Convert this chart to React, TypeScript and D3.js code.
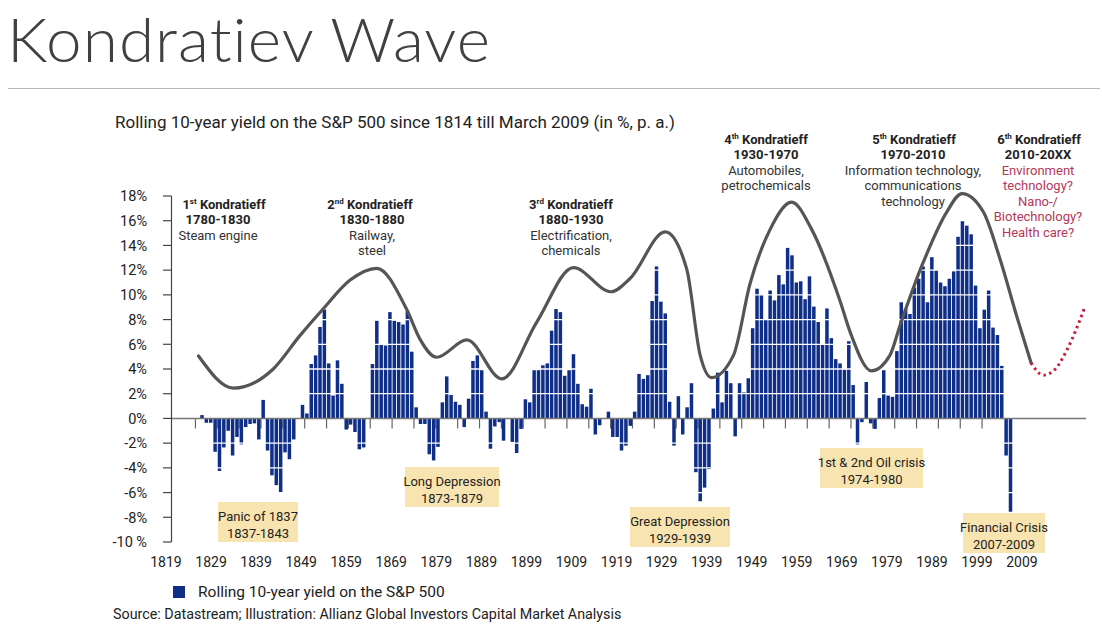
import React from "react";
import * as d3 from "d3";

// ---------- data ----------
const years: number[] = d3.range(1824, 2010);
const yields: number[] = [
  0.27, -0.35, -0.35, -2.7, -4.25, -2.35, -1.0, -3.0, -1.5, -2.1,
  -0.7, -0.45, -0.4, -1.7, 1.5, -2.6, -4.6, -5.4, -6.0, -2.75,
  -3.3, -1.7, 0, 1.1, 0.4, 4.4, 5.1, 7.4, 8.8, 4.45,
  1.85, 4.7, 2.8, -0.9, -0.5, -1.1, -2.5, -2.35, 0, 4.4,
  7.9, 6.0, 5.9, 8.6, 7.9, 7.8, 7.6, 8.7, 5.4, 0.9,
  -0.45, -0.45, -2.9, -3.4, -2.3, 1.3, 3.4, 1.9, 1.35, 1.1,
  -0.7, 1.6, 4.65, 5.1, 3.9, 0.55, -2.45, -0.65, -0.3, -1.8,
  0, -1.9, -2.8, -0.85, 1.55, 1.3, 3.9, 3.9, 4.3, 4.45,
  7.1, 8.85, 8.6, 3.45, 3.9, 5.2, 2.8, 1.15, 0.95, 2.4,
  -1.3, -0.55, 0, 0.55, -1.5, -1.5, -2.6, -2.2, -0.6, 0.55,
  3.6, 3.2, 3.5, 9.5, 12.3, 9.45, 8.5, 1.35, -2.2, 1.8,
  -1.3, 0.9, 2.85, -4.35, -6.7, -5.6, -4.1, 0.8, 3.7, 1.3,
  3.85, 2.85, -1.45, 2.85, 2.1, 3.25, 7.3, 10.5, 10.0, 8.0,
  10.35, 9.55, 11.6, 10.85, 13.8, 13.2, 11.0, 11.1, 9.65, 11.5,
  9.05, 7.8, 6.0, 8.9, 6.5, 4.8, 4.45, 3.95, 6.25, 2.7,
  -2.1, -0.3, 2.95, -0.4, -0.85, 1.65, 3.9, 1.85, 1.75, 5.45,
  9.4, 8.9, 8.45, 10.6, 11.3, 12.3, 9.4, 13.05, 12.0, 11.0,
  10.7, 11.3, 11.9, 14.7, 16.0, 15.6, 14.9, 10.75, 7.3, 8.8,
  10.35, 7.35, 6.75, 4.25, -3.0, -7.55,
];

const yTickValues = [18, 16, 14, 12, 10, 8, 6, 4, 2, 0, -2, -4, -6, -8, -10];
const yTickLabels = ["18%", "16%", "14%", "12%", "10%", "8%", "6%", "4%", "2%", "0%", "-2%", "-4%", "-6%", "-8%", "-10 %"];
const xTickLabels = ["1819", "1829", "1839", "1849", "1859", "1869", "1879", "1889", "1899", "1909",
  "1919", "1929", "1939", "1949", "1959", "1969", "1979", "1989", "1999", "2009"];
const zeroTickYears: number[] = d3.range(1822.5, 2003, 5);

const waveYears = [1823.2, 1831.2, 1840.3, 1846.4, 1851.8, 1857.9, 1864.0, 1870.8, 1873.9, 1877.7,
  1884.6, 1892.6, 1900.6, 1909.0, 1917.6, 1921.9, 1930.0, 1934.9, 1938.0, 1940.6,
  1945.6, 1949.4, 1954.0, 1958.9, 1963.5, 1970.0, 1972.3, 1977.2, 1981.4, 1983.7,
  1989.0, 1994.4, 1997.9, 2002.8, 2006.6, 2010.4, 2013.7];
const waveValues = [5.05, 2.45, 4.0, 6.7, 8.9, 11.2, 12.15, 8.85, 6.4, 4.95,
  6.35, 3.2, 7.8, 12.2, 10.25, 11.3, 15.1, 12.1, 5.1, 3.3,
  5.1, 10.9, 15.3, 17.5, 15.3, 9.5, 7.0, 3.85, 5.1, 7.5,
  12.6, 16.7, 18.2, 16.7, 12.9, 8.3, 4.5];
const outlookYears = [2013.7, 2016.5, 2019.0, 2022.0, 2026.0];
const outlookValues = [4.5, 3.5, 3.9, 5.6, 9.0];

const waveOrdinals = ["1", "2", "3", "4", "5", "6"];
const waveSuffixes = ["st", "nd", "rd", "th", "th", "th"];
const wavePeriods = ["1780-1830", "1830-1880", "1880-1930", "1930-1970", "1970-2010", "2010-20XX"];
const waveThemes = [
  ["Steam engine"],
  ["Railway,", "steel"],
  ["Electrification,", "chemicals"],
  ["Automobiles,", "petrochemicals"],
  ["Information technology,", "communications", "technology"],
  ["Environment", "technology?", "Nano-/", "Biotechnology?", "Health care?"],
];
const crisisNames = ["Panic of 1837", "Long Depression", "Great Depression", "1st & 2nd Oil crisis", "Financial Crisis"];
const crisisPeriods = ["1837-1843", "1873-1879", "1929-1939", "1974-1980", "2007-2009"];

// ---------- layout (positions & styles) ----------
const W = 1102;
const H = 632;
const FONT = "Roboto, 'Liberation Sans', sans-serif";
const BAR = "#0f2e88";
const headLayout = [
  { hx: 224, bx: 218, y: 209 },
  { hx: 370, bx: 372, y: 209 },
  { hx: 571, bx: 571, y: 209 },
  { hx: 766, bx: 766, y: 144 },
  { hx: 914, bx: 913, y: 144 },
  { hx: 1039, bx: 1038, y: 144 },
];
const boxLayout = [
  { x: 218, y: 502, w: 80 },
  { x: 405, y: 467, w: 94 },
  { x: 630, y: 507, w: 100 },
  { x: 820, y: 448, w: 103 },
  { x: 963, y: 513, w: 82 },
];

export default function App() {
  const y = d3.scaleLinear().domain([-10, 18]).range([542, 196]);
  const x = d3.scaleLinear().domain([1824, 2009]).range([202, 1010.5]);
  const step = x(1825) - x(1824);
  const bw = step * 0.8;
  const xLab = d3.scalePoint<string>().domain(xTickLabels).range([166, 1022]);
  const y0 = y(0);

  const line = d3
    .line<number>()
    .x((_, i) => x(waveYears[i]))
    .y((d) => y(d))
    .curve(d3.curveMonotoneX);
  const outlook = d3
    .line<number>()
    .x((_, i) => x(outlookYears[i]))
    .y((d) => y(d))
    .curve(d3.curveMonotoneX);

  return (
    <svg width={W} height={H} style={{ position: "absolute", left: 0, top: 0, background: "#fff" }} fontFamily={FONT}>
      <rect x={0} y={0} width={W} height={H} fill="#fff" />
      {/* Title */}
      <text x={7} y={62} fontFamily="Lato, 'Open Sans', sans-serif" fontWeight={300} fontSize={61}
        fill="#404040" textLength={484} lengthAdjust="spacingAndGlyphs" letterSpacing={1}
        style={{ fontVariantLigatures: "none", fontFeatureSettings: "'liga' 0, 'dlig' 0, 'clig' 0" }}>
        Kondratiev Wave
      </text>
      <line x1={8} x2={1100} y1={88.5} y2={88.5} stroke="#b8b8b8" strokeWidth={1} />
      <text x={115} y={128} fontSize={17} fill="#222">
        Rolling 10-year yield on the S&amp;P 500 since 1814 till March 2009 (in %, p. a.)
      </text>

      {/* ticks on zero line */}
      {zeroTickYears.map((t) => (
        <line key={"zt" + t} x1={x(t)} x2={x(t)} y1={y0} y2={y0 + 10} stroke="#666" strokeWidth={1.2} />
      ))}

      {/* bars */}
      {yields.map((v, i) => (
        <rect
          key={"b" + years[i]}
          x={x(years[i]) - bw / 2}
          y={Math.min(y(v), y0)}
          width={bw}
          height={Math.abs(y(v) - y0)}
          fill={BAR}
        />
      ))}

      {/* white gridlines over bars */}
      {yTickValues.filter((v) => v !== 0).map((v) => (
        <line key={"g" + v} x1={195} x2={1015} y1={y(v)} y2={y(v)} stroke="#fff" strokeWidth={1.3} />
      ))}

      {/* zero line */}
      <line x1={172} x2={1086} y1={y0} y2={y0} stroke="#777" strokeWidth={1.5} />

      {/* y axis */}
      <line x1={171.5} x2={171.5} y1={y(18)} y2={y(-10)} stroke="#444" strokeWidth={1.2} />
      {yTickValues.map((v, i) => (
        <g key={"yt" + v}>
          <line x1={163} x2={171.5} y1={y(v)} y2={y(v)} stroke="#444" strokeWidth={1.2} />
          <text x={147} y={y(v)} dy="0.36em" textAnchor="end" fontSize={14.5} fill="#222">
            {yTickLabels[i]}
          </text>
        </g>
      ))}

      {/* x labels */}
      {xTickLabels.map((l) => (
        <text key={"xl" + l} x={xLab(l)} y={567} textAnchor="middle" fontSize={14} fill="#222">
          {l}
        </text>
      ))}

      {/* wave */}
      <path d={line(waveValues) || ""} fill="none" stroke="#555" strokeWidth={3.2} strokeLinecap="round" />
      <path d={outlook(outlookValues) || ""} fill="none" stroke="#c41e3a" strokeWidth={3} strokeDasharray="2.5 3.5" />

      {/* Kondratieff annotations */}
      {waveOrdinals.map((o, i) => {
        const L = headLayout[i];
        const red = i === 5;
        return (
          <g key={"k" + i}>
            <text x={L.hx} y={L.y} textAnchor="middle" fontSize={13} fontWeight="bold" fill="#222">
              {o}
              <tspan fontSize={8} dy={-5}>{waveSuffixes[i]}</tspan>
              <tspan dy={5}> Kondratieff</tspan>
            </text>
            <text x={L.bx} y={L.y + 15} textAnchor="middle" fontSize={13} fontWeight="bold" fill="#222">
              {wavePeriods[i]}
            </text>
            {waveThemes[i].map((t, j) => (
              <text key={t} x={L.bx} y={L.y + 30.5 + j * 15.5} textAnchor="middle" fontSize={13}
                fill={red ? "#b8375a" : "#333"}>
                {t}
              </text>
            ))}
          </g>
        );
      })}

      {/* crisis boxes */}
      {crisisNames.map((n, i) => {
        const B = boxLayout[i];
        return (
          <g key={"c" + i}>
            <rect x={B.x} y={B.y} width={B.w} height={40} fill="#f8e4b0" />
            <text x={B.x + B.w / 2} y={B.y + 18.5} textAnchor="middle" fontSize={13} fill="#222">{n}</text>
            <text x={B.x + B.w / 2} y={B.y + 36} textAnchor="middle" fontSize={13} fill="#222">{crisisPeriods[i]}</text>
          </g>
        );
      })}

      {/* legend */}
      <rect x={173} y={586} width={12} height={12} fill={BAR} />
      <text x={198} y={597} fontSize={15.5} fill="#222">Rolling 10-year yield on the S&amp;P 500</text>
      <text x={113} y={619} fontSize={14.3} fill="#222">
        Source: Datastream; Illustration: Allianz Global Investors Capital Market Analysis
      </text>
    </svg>
  );
}
